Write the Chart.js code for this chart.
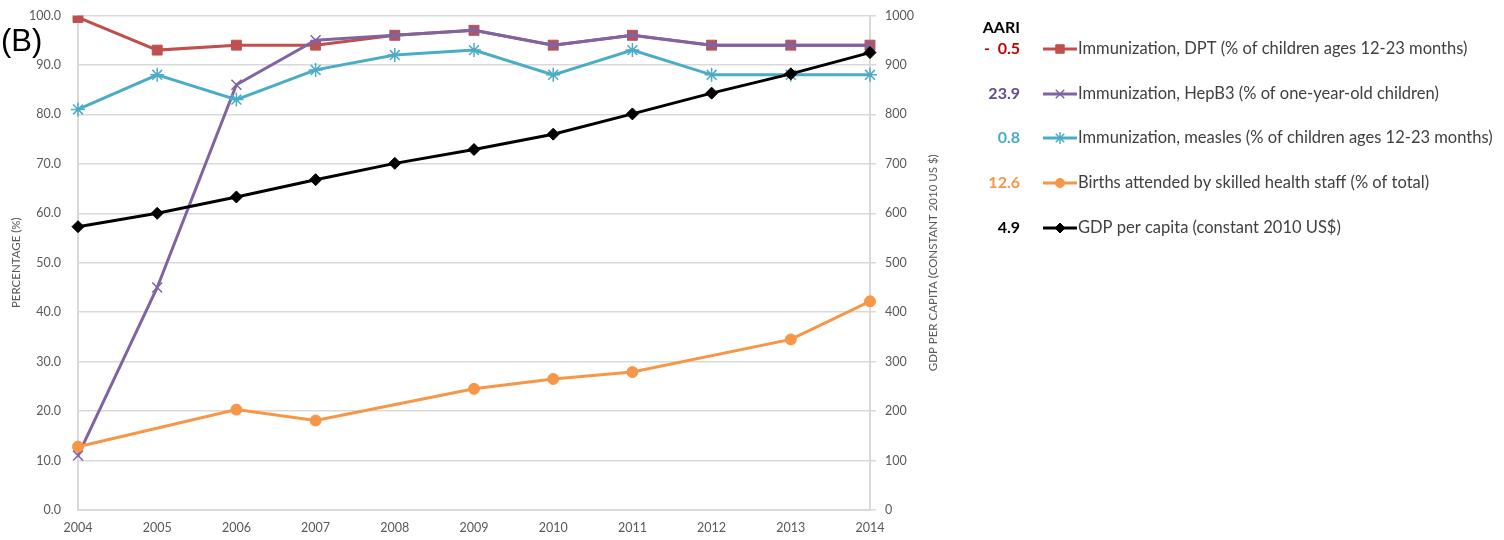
<!DOCTYPE html>
<html>
<head>
<meta charset="utf-8">
<script src="https://cdn.jsdelivr.net/npm/chart.js@4.4.1/dist/chart.umd.min.js"></script>
<style>
  html, body { margin: 0; padding: 0; background: #fff; }
  #wrap { position: relative; width: 1504px; height: 540px; overflow: hidden; }
  #chart { position: absolute; left: 0; top: -9px; }
</style>
</head>
<body>
<div id="wrap"><canvas id="chart" width="1504" height="549"></canvas></div>
<script>
var years = ['2004', '2005', '2006', '2007', '2008', '2009', '2010', '2011', '2012', '2013', '2014'];
var dpt     = [99.6, 93, 94, 94, 96, 97, 94, 96, 94, 94, 94];
var hepb3   = [11, 45, 86, 95, 96, 97, 94, 96, 94, 94, 94];
var measles = [81, 88, 83, 89, 92, 93, 88, 93, 88, 88, 88];
var births  = [12.8, null, 20.3, 18.1, null, 24.5, 26.5, 27.9, null, 34.5, 42.2];
var gdp     = [573, 600, 633, 668, 701, 729, 760, 801, 843, 882, 925];

var seriesNames = [
  'Immunization, DPT (% of children ages 12-23 months)',
  'Immunization, HepB3 (% of one-year-old children)',
  'Immunization, measles (% of children ages 12-23 months)',
  'Births attended by skilled health staff (% of total)',
  'GDP per capita (constant 2010 US$)'
];
var aariLabels = ['-  0.5', '23.9', '0.8', '12.6', '4.9'];
var aariColors = ['#c00000', '#5f4b8b', '#4bacc6', '#f79646', '#000000'];

var leftTitle = 'PERCENTAGE (%)';
var rightTitle = 'GDP PER CAPITA (CONSTANT 2010 US $)';
var FONT = 'Lato, "Open Sans", sans-serif';
var SHIFT = 9; // canvas sits 9px above the page top

// --- custom legend + axis titles + panel tag ---
var sideDecor = {
  id: 'sideDecor',
  afterDraw: function (chart) {
    var ctx = chart.ctx;
    var area = chart.chartArea;
    ctx.save();
    ctx.translate(0, SHIFT);

    // panel tag
    ctx.fillStyle = '#000';
    ctx.font = '31px Arial, "Liberation Sans", sans-serif';
    ctx.textAlign = 'left';
    ctx.textBaseline = 'middle';
    ctx.fillText('(B)', 1, 42);

    // axis titles
    var midY = (area.top + area.bottom) / 2 - SHIFT;
    ctx.fillStyle = '#595959';
    ctx.font = '11.5px ' + FONT;
    ctx.textAlign = 'center';
    ctx.textBaseline = 'middle';
    ctx.save();
    ctx.translate(16, midY);
    ctx.rotate(-Math.PI / 2);
    ctx.fillText(leftTitle, 0, 0);
    ctx.restore();
    ctx.save();
    ctx.translate(933, midY);
    ctx.rotate(-Math.PI / 2);
    ctx.fillText(rightTitle, 0, 0);
    ctx.restore();

    // legend
    ctx.font = 'bold 16px ' + FONT;
    ctx.textAlign = 'right';
    ctx.fillStyle = '#000';
    ctx.fillText('AARI', 1020, 28);
    var rows = [49, 94, 138, 183, 228];
    chart.data.datasets.forEach(function (ds, i) {
      var y = rows[i];
      ctx.font = 'bold 16px ' + FONT;
      ctx.textAlign = 'right';
      ctx.fillStyle = aariColors[i];
      ctx.fillText(aariLabels[i], 1020, y);

      ctx.strokeStyle = ds.borderColor;
      ctx.lineWidth = 3;
      ctx.beginPath();
      ctx.moveTo(1043, y);
      ctx.lineTo(1077, y);
      ctx.stroke();

      ctx.fillStyle = ds.pointBackgroundColor;
      ctx.strokeStyle = ds.pointBorderColor;
      ctx.lineWidth = ds.pointBorderWidth || 1;
      Chart.helpers.drawPoint(ctx, {
        pointStyle: ds.pointStyle,
        radius: ds.pointRadius - 1,
        borderWidth: ds.pointBorderWidth || 1
      }, 1060, y);

      ctx.font = '16.5px ' + FONT;
      ctx.textAlign = 'left';
      ctx.textBaseline = 'middle';
      ctx.fillStyle = '#404040';
      ctx.fillText(seriesNames[i], 1078, y);
    });
    ctx.restore();
  }
};

var tickFont = { family: FONT, size: 12.5 };

new Chart(document.getElementById('chart').getContext('2d'), {
  type: 'line',
  data: {
    labels: years,
    datasets: [
      {
        label: seriesNames[0], data: dpt, yAxisID: 'y', order: 5,
        borderColor: '#c0504d', borderWidth: 3,
        pointStyle: 'rect', pointRadius: 7, pointBorderWidth: 1,
        pointBackgroundColor: '#c0504d', pointBorderColor: '#c0504d'
      },
      {
        label: seriesNames[1], data: hepb3, yAxisID: 'y', order: 4,
        borderColor: '#8064a2', borderWidth: 3,
        pointStyle: 'crossRot', pointRadius: 7, pointBorderWidth: 1.5,
        pointBackgroundColor: '#8064a2', pointBorderColor: '#8064a2'
      },
      {
        label: seriesNames[2], data: measles, yAxisID: 'y', order: 3,
        borderColor: '#4bacc6', borderWidth: 3,
        pointStyle: 'star', pointRadius: 7, pointBorderWidth: 1.5,
        pointBackgroundColor: '#4bacc6', pointBorderColor: '#4bacc6'
      },
      {
        label: seriesNames[3], data: births, yAxisID: 'y', order: 2, spanGaps: true,
        borderColor: '#f79646', borderWidth: 3,
        pointStyle: 'circle', pointRadius: 5.5, pointBorderWidth: 1,
        pointBackgroundColor: '#f79646', pointBorderColor: '#f79646'
      },
      {
        label: seriesNames[4], data: gdp, yAxisID: 'y2', order: 1,
        borderColor: '#000000', borderWidth: 3,
        pointStyle: 'rectRot', pointRadius: 6, pointBorderWidth: 1,
        pointBackgroundColor: '#000000', pointBorderColor: '#000000'
      }
    ]
  },
  plugins: [sideDecor],
  options: {
    responsive: false,
    animation: false,
    tension: 0,
    layout: { padding: { top: 6, right: 559, left: 0, bottom: 0 } },
    plugins: {
      legend: { display: false },
      tooltip: { enabled: false }
    },
    scales: {
      x: {
        offset: false,
        grid: { display: false, drawTicks: false },
        border: { color: '#d9d9d9', width: 2 },
        ticks: { color: '#595959', font: tickFont, padding: 10, maxRotation: 0 },
        afterFit: function (s) { s.height = 30; }
      },
      y: {
        position: 'left', min: 0, max: 100,
        grid: { color: '#d9d9d9', lineWidth: 1.5, drawTicks: false },
        border: { color: '#d9d9d9', width: 2 },
        ticks: {
          stepSize: 10, color: '#595959', font: tickFont, padding: 17,
          callback: function (v) { return v.toFixed(1); }
        },
        afterFit: function (s) { s.width = 78; }
      },
      y2: {
        position: 'right', min: 0, max: 1000,
        grid: { drawOnChartArea: false, color: '#d9d9d9', tickLength: 6, lineWidth: 1.5 },
        border: { color: '#d9d9d9', width: 2 },
        ticks: {
          stepSize: 100, color: '#595959', font: tickFont, padding: 9,
          callback: function (v) { return String(v); }
        },
        afterFit: function (s) { s.width = 75; }
      }
    }
  }
});
</script>
</body>
</html>
